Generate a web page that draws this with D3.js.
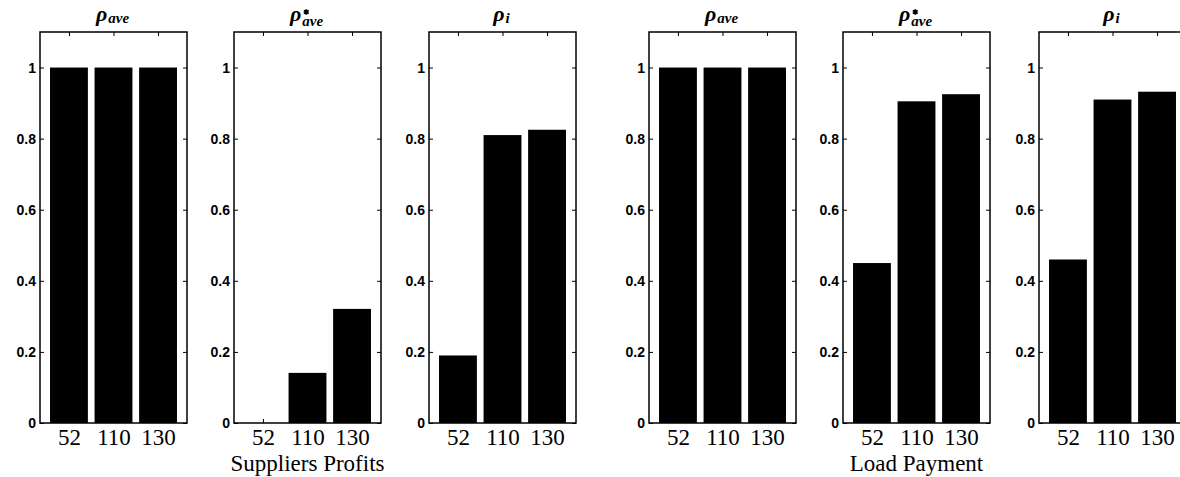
<!DOCTYPE html>
<html>
<head>
<meta charset="utf-8">
<script src="https://cdn.jsdelivr.net/npm/d3@7"></script>
<style>
  body { margin: 0; background: #fff; }
  svg { display: block; }
</style>
</head>
<body>
<div id="chart"></div>
<script>
const categories = ["52", "110", "130"];
const supplierAve = [1.0, 1.0, 1.0];
const supplierAveStar = [0, 0.141, 0.321];
const supplierRhoI = [0.19, 0.81, 0.825];
const loadAve = [1.0, 1.0, 1.0];
const loadAveStar = [0.45, 0.905, 0.925];
const loadRhoI = [0.46, 0.91, 0.932];
const yTicks = [0, 0.2, 0.4, 0.6, 0.8, 1];
const yTickLabels = ["0", "0.2", "0.4", "0.6", "0.8", "1"];
const titleSubs = ["ave", "ave", "i"];
const titleStars = [false, true, false];
const groupLabels = ["Suppliers Profits", "Load Payment"];

const width = 1180;
const height = 477;

const svg = d3.select("#chart")
    .append("svg")
    .attr("width", width)
    .attr("height", height);

// panel left edges (px) and common size
const panelLeft = [40, 234, 429, 649, 843, 1039];
const panelW = 147;
const plotTop = 32, plotBottom = 423;

const panels = [
    { values: supplierAve, t: 0 },
    { values: supplierAveStar, t: 1 },
    { values: supplierRhoI, t: 2 },
    { values: loadAve, t: 0 },
    { values: loadAveStar, t: 1 },
    { values: loadRhoI, t: 2 }
];

const y = d3.scaleLinear().domain([0, 1.1]).range([plotBottom, plotTop]);

panels.forEach((p, i) => {
    const x = d3.scaleLinear()
        .domain([0.35, 3.65])
        .range([0, panelW]);
    const g = svg.append("g").attr("transform", `translate(${panelLeft[i]},0)`);
    const barW = x(1.85) - x(1);

    g.selectAll("rect.bar")
        .data(p.values)
        .enter().append("rect")
        .attr("class", "bar")
        .attr("x", (d, j) => x(j + 1) - barW / 2)
        .attr("width", barW)
        .attr("y", d => y(d))
        .attr("height", d => y(0) - y(d))
        .attr("fill", "#000");

    // frame
    g.append("rect")
        .attr("x", 0).attr("y", plotTop)
        .attr("width", panelW).attr("height", plotBottom - plotTop)
        .attr("fill", "none")
        .attr("stroke", "#000")
        .attr("stroke-width", 1.5);

    const fmt = d => yTickLabels[yTicks.indexOf(d)];

    const left = g.append("g")
        .call(d3.axisLeft(y).tickValues(yTicks).tickSize(-4).tickSizeOuter(0).tickPadding(4).tickFormat(fmt));
    left.select(".domain").remove();
    left.selectAll("text")
        .attr("font-family", "Liberation Sans, Arial, sans-serif")
        .attr("font-weight", "bold")
        .attr("font-size", 14);

    const right = g.append("g")
        .attr("transform", `translate(${panelW},0)`)
        .call(d3.axisRight(y).tickValues(yTicks).tickSize(-4).tickSizeOuter(0).tickFormat(""));
    right.select(".domain").remove();

    const topAx = g.append("g")
        .attr("transform", `translate(0,${plotTop})`)
        .call(d3.axisTop(x).tickValues([1, 2, 3]).tickSize(-4).tickSizeOuter(0).tickFormat(""));
    topAx.select(".domain").remove();

    const bot = g.append("g")
        .attr("transform", `translate(0,${plotBottom})`)
        .call(d3.axisBottom(x).tickValues([1, 2, 3]).tickSize(-4).tickSizeOuter(0).tickPadding(6)
            .tickFormat(d => categories[d - 1]));
    bot.select(".domain").remove();
    bot.selectAll("text")
        .attr("font-family", "Liberation Serif, Times New Roman, serif")
        .attr("font-size", 23)
        .attr("fill", "#000");

    // title
    const cx = panelW / 2;
    const starred = titleStars[p.t];
    const title = g.append("text")
        .attr("x", cx - 1)
        .attr("y", 21)
        .attr("text-anchor", "middle")
        .attr("font-family", "Liberation Serif, Times New Roman, serif")
        .attr("font-style", "italic")
        .attr("font-weight", "bold")
        .attr("fill", "#000");
    title.append("tspan").attr("font-size", 22).text("ρ");
    const sub = title.append("tspan")
        .attr("font-size", 15)
        .attr("dy", starred ? 5 : 2)
        .attr("dx", 1)
        .text(titleSubs[p.t]);
    if (starred) {
        // superscript star above the subscript, drawn as a symbol
        const sx = sub.node().getStartPositionOfChar(0).x;
        g.append("path")
            .attr("d", d3.symbol(d3.symbolAsterisk, 22)())
            .attr("transform", `translate(${sx + 4},12)`)
            .attr("fill", "none")
            .attr("stroke", "#000")
            .attr("stroke-width", 1.8);
    }
});

// group labels under middle panel of each group
[1, 4].forEach((pi, k) => {
    svg.append("text")
        .attr("x", panelLeft[pi] + panelW / 2)
        .attr("y", 471)
        .attr("text-anchor", "middle")
        .attr("font-family", "Liberation Serif, Times New Roman, serif")
        .attr("font-size", 23)
        .attr("fill", "#000")
        .text(groupLabels[k]);
});
</script>
</body>
</html>
